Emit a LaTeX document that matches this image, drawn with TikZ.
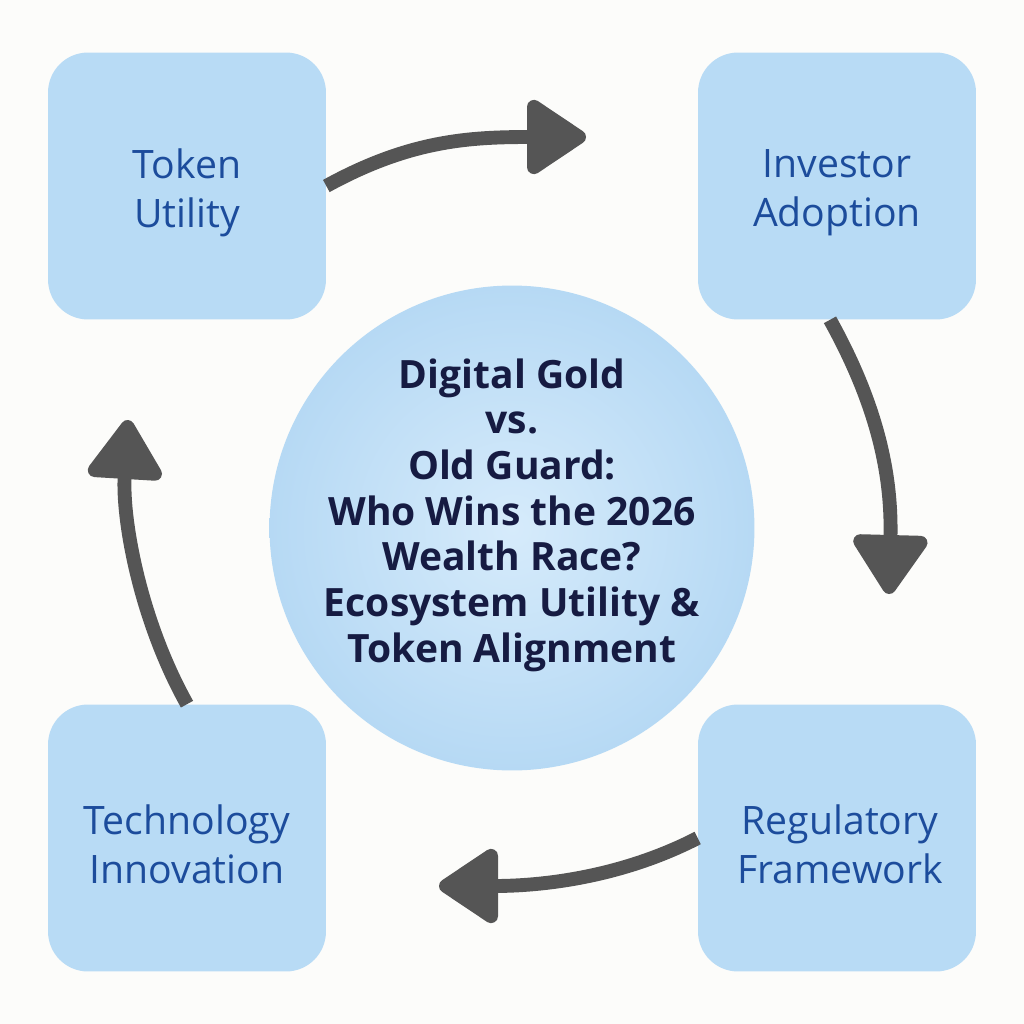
\documentclass[tikz,border=0pt]{standalone}
\usepackage{fontspec}
\setmainfont{Open Sans}
\usetikzlibrary{arrows.meta}
\definecolor{boxfill}{HTML}{B8DBF5}
\definecolor{boxtext}{HTML}{1C4C9C}
\definecolor{ctext}{HTML}{161B42}
\definecolor{arrowgray}{HTML}{555555}
\definecolor{bg}{HTML}{FCFCFA}
\definecolor{circin}{HTML}{D6EBFB}
\definecolor{circout}{HTML}{B6D9F4}
\tikzset{
  stepbox/.style={rectangle, rounded corners=0.8cm, fill=boxfill, draw=none,
    minimum width=5.56cm, minimum height=5.34cm},
  boxlabel/.style={align=center, text=boxtext, font=\fontsize{22.3}{28}\selectfont},
  hub/.style={circle, minimum size=9.7cm, inner color=circin, outer color=circout,
    draw=none},
  hublabel/.style={align=center, text=ctext, font=\bfseries\fontsize{22.2}{26}\selectfont},
  flow/.style={line width=7.9pt, draw=arrowgray,
    -{Triangle[width=47pt,length=37pt,round]}}
}
\begin{document}
\begin{tikzpicture}[x=0.02cm,y=-0.02cm]
\fill[bg] (0,0) rectangle (1024,1024);
\useasboundingbox (0,0) rectangle (1024,1024);
\node[hub] (c) at (512,528) {};
\node[hublabel] (ct) at (512,515) {Digital Gold\\vs.\\Old Guard:\\Who Wins the 2026\\Wealth Race?\\Ecosystem Utility \&\\Token Alignment};
\node[stepbox] (tu) at (187,186) {};
\node[stepbox] (ia) at (837,186) {};
\node[stepbox] (ti) at (187,838) {};
\node[stepbox] (rf) at (837,838) {};
\node[boxlabel] (tul) at (187,193) {Token\\Utility};
\node[boxlabel] (ial) at (837,193) {Investor\\Adoption};
\node[boxlabel] (til) at (187,844) {Technology\\Innovation};
\node[boxlabel] (rfl) at (840,844) {Regulatory\\Framework};
\coordinate (t1) at (586,137);
\coordinate (t2) at (889,594);
\coordinate (t3) at (439,886);
\coordinate (t4) at (128,420);
\draw[flow] (tu.east) .. controls (410,140) and (470,137) .. (t1);
\draw[flow] ([xshift=-4]ia.south) .. controls (880,410) and (892,480) .. (t2);
\draw[flow] (rf.west) .. controls (620,878) and (540,886) .. (t3);
\draw[flow] (ti.north) .. controls (140,620) and (122,520) .. (t4);
\end{tikzpicture}
\end{document}
